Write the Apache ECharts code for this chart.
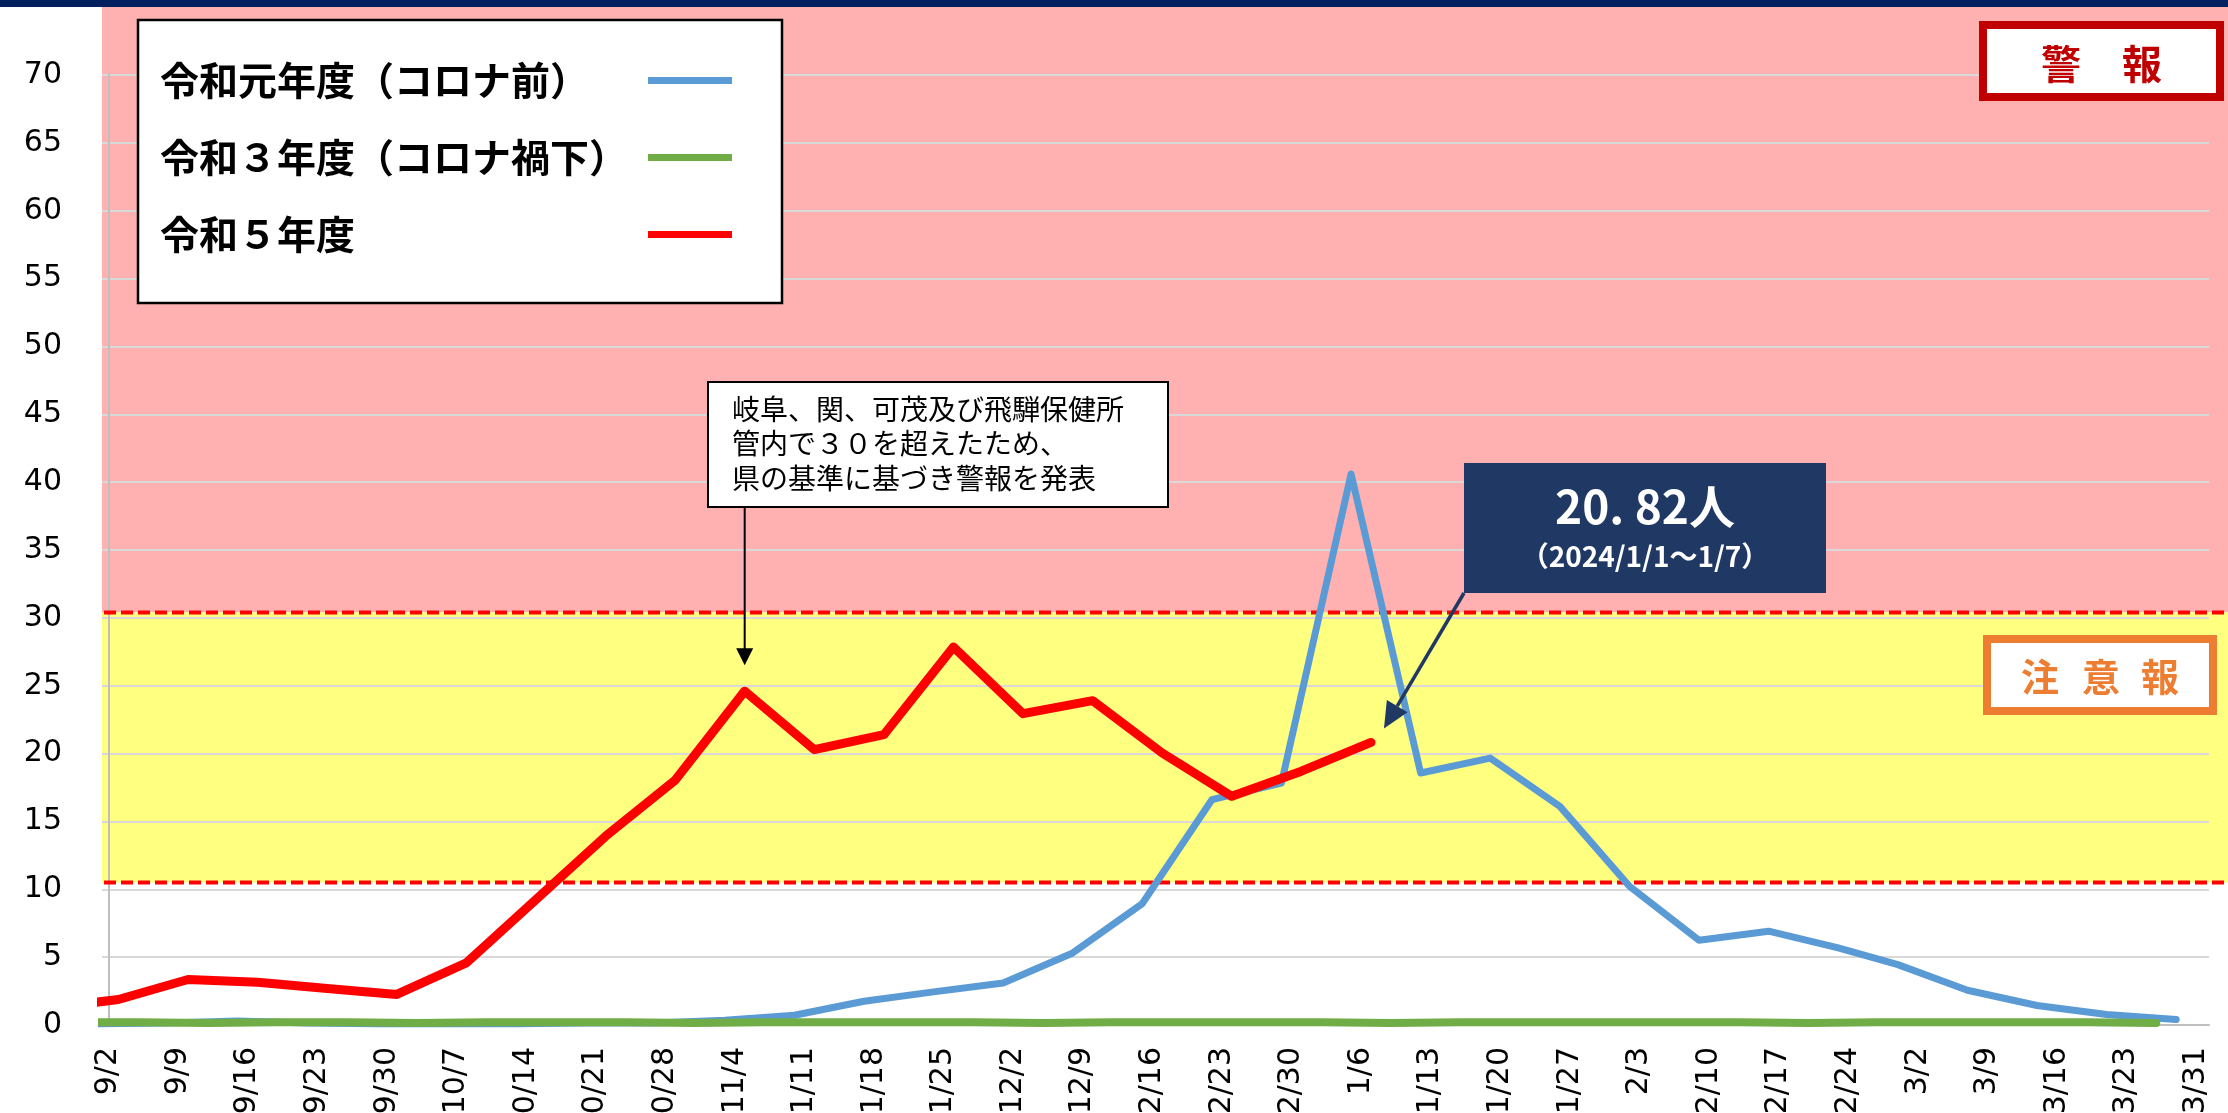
<!DOCTYPE html>
<html><head><meta charset="utf-8">
<script src="https://cdn.jsdelivr.net/npm/echarts@6/dist/echarts.min.js"></script>
<style>html,body{margin:0;padding:0;background:#fff}#c{width:2228px;height:1113px}</style>
</head><body><div id="c"></div>
<script>
// ---- data ----
const xLabels = ['9/2','9/9','9/16','9/23','9/30','10/7','10/14','10/21','10/28','11/4','11/11','11/18','11/25','12/2','12/9','12/16','12/23','12/30','1/6','1/13','1/20','1/27','2/3','2/10','2/17','2/24','3/2','3/9','3/16','3/23','3/31'];
const yMin = 0, yMax = 70, yStep = 5;

const seriesNames = ['令和元年度（コロナ前）','令和３年度（コロナ禍下）','令和５年度'];

// week-ending dates (M/D) of each season
const r1Weeks = ['9/1','9/8','9/15','9/22','9/29','10/6','10/13','10/20','10/27','11/3','11/10','11/17','11/24','12/1','12/8','12/15','12/22','12/29','1/5','1/12','1/19','1/26','2/2','2/9','2/16','2/23','3/1','3/8','3/15','3/22','3/29'];
const r1Values = [0.1,0.15,0.3,0.15,0.1,0.1,0.1,0.15,0.15,0.35,0.72,1.75,2.44,3.1,5.31,8.95,16.6,17.83,40.6,18.57,19.67,16.11,10.22,6.25,6.91,5.68,4.45,2.56,1.44,0.77,0.4];

const r3Weeks = ['8/29','9/5','9/12','9/19','9/26','10/3','10/10','10/17','10/24','10/31','11/7','11/14','11/21','11/28','12/5','12/12','12/19','12/26','1/2','1/9','1/16','1/23','1/30','2/6','2/13','2/20','2/27','3/6','3/13','3/20','3/27'];
const r3Values = [0.2,0.2,0.15,0.2,0.2,0.15,0.2,0.2,0.2,0.15,0.2,0.2,0.2,0.2,0.15,0.2,0.2,0.2,0.2,0.15,0.2,0.2,0.2,0.2,0.2,0.15,0.2,0.2,0.2,0.2,0.15];

const r5Weeks = ['8/27','9/3','9/10','9/17','9/24','10/1','10/8','10/15','10/22','10/29','11/5','11/12','11/19','11/26','12/3','12/10','12/17','12/24','12/31','1/7'];
const r5Values = [1.25,1.88,3.35,3.15,2.69,2.25,4.58,9.24,13.9,18.03,24.6,20.29,21.39,27.85,22.94,23.9,20.04,16.85,18.7,20.82];

// alert levels as drawn (注意報 band bottom, 警報 band bottom)
const cautionLevel = 10.5;
const warningLevel = 30.4;

const noteLines = ['岐阜、関、可茂及び飛騨保健所','管内で３０を超えたため、','県の基準に基づき警報を発表'];
const latestText = '20. 82人';
const latestPeriod = '（2024/1/1～1/7）';

const colors = ['#5B9BD5','#70AD47','#FF0000'];

// ---- helpers ----
function dayOf(md){
  const p = md.split('/').map(Number);
  const y = p[0] >= 8 ? 2022 : 2023;
  return (Date.UTC(y, p[0]-1, p[1]) - Date.UTC(2022, 8, 2)) / 86400000;
}
function pts(weeks, vals){ return weeks.map((w,i)=>[dayOf(w), vals[i]]); }

const CJK = '"Noto Sans CJK JP", sans-serif';
const LAT = '"DejaVu Sans", sans-serif';

const chart = echarts.init(document.getElementById('c'), null, {renderer:'canvas'});

function lineSeries(i, data, w){
  return {
    type:'line', name: seriesNames[i], data: data,
    symbol:'none', showSymbol:false, silent:true, clip:true,
    color: colors[i],
    itemStyle:{color: colors[i]},
    lineStyle:{color: colors[i], width: w, cap:'round', join:'round'},
    z: 3
  };
}

chart.setOption({
  animation:false,
  backgroundColor:'#ffffff',
  grid:{left:102, right:19, top:75, bottom:88, containLabel:false, outerBoundsMode:'none'},
  xAxis:{
    type:'value', min:-0.65, max:211.3,
    splitLine:{show:false},
    axisTick:{show:false},
    axisLine:{show:true, lineStyle:{color:'#BFBFBF', width:2}},
    axisLabel:{
      rotate:90, margin:22, fontSize:30, fontFamily:LAT, color:'#000',
      customValues: xLabels.map((_, i) => i*7),
      formatter: v => xLabels[Math.round(v/7)]
    }
  },
  yAxis:{
    type:'value', min:yMin, max:yMax, interval:yStep,
    axisLine:{show:true, lineStyle:{color:'#BFBFBF', width:2}},
    axisTick:{show:false},
    splitLine:{show:true, lineStyle:{color:'#D9D9D9', width:2}},
    axisLabel:{fontSize:30, fontFamily:LAT, color:'#000', margin:40}
  },
  legend:{
    show:true, orient:'vertical', left:138, top:20,
    data: seriesNames, selectedMode:false, align:'right',
    icon:'rect', itemWidth:84, itemHeight:7, itemGap:38,
    padding:[41,50,49,22],
    backgroundColor:'#ffffff', borderColor:'#000000', borderWidth:2.5,
    formatter: n => '{t|' + n + '}',
    textStyle:{ rich:{ t:{ width:483, align:'left', fontSize:39, fontWeight:'bold', fontFamily:CJK, color:'#000', lineHeight:44 } } },
    z: 20
  },
  series:[
    lineSeries(0, pts(r1Weeks, r1Values), 7),
    lineSeries(1, pts(r3Weeks, r3Values), 8),
    lineSeries(2, pts(r5Weeks, r5Values), 9)
  ]
});

// ---- overlays placed through the axis scales ----
const W = 2228;
const gridLeft = 102;
const yOf = v => chart.convertToPixel({yAxisIndex:0}, v);
const P = (d, v) => chart.convertToPixel({xAxisIndex:0, yAxisIndex:0}, [d, v]);

const yWarn = yOf(warningLevel);
const yCaut = yOf(cautionLevel);

// arrow 1 target: R5 peak at 11/5
const peak = P(dayOf(r5Weeks[10]), r5Values[10]);
const tip1 = [peak[0], peak[1] - 26];
// arrow 2 target: latest R5 value
const last = P(dayOf(r5Weeks[r5Weeks.length-1]), r5Values[r5Values.length-1]);
const tip2 = [last[0] + 13, last[1] - 14];
const a2s = [1464, 593];
const dx = tip2[0]-a2s[0], dy = tip2[1]-a2s[1], L = Math.hypot(dx, dy);
const ux = dx/L, uy = dy/L, hl = 26, hw = 12;
const base2 = [tip2[0]-ux*hl, tip2[1]-uy*hl];

const graphics = [
  {type:'rect', z:-1, silent:true, shape:{x:0, y:0, width:W, height:7}, style:{fill:'#002060'}},
  {type:'rect', z:-1, silent:true, shape:{x:gridLeft, y:7, width:W-gridLeft, height:yWarn-7}, style:{fill:'#FFB1B1'}},
  {type:'rect', z:-1, silent:true, shape:{x:gridLeft, y:yWarn, width:W-gridLeft, height:yCaut-yWarn}, style:{fill:'#FFFF80'}},
  {type:'line', z:1, silent:true, shape:{x1:104, y1:yWarn, x2:W, y2:yWarn}, style:{stroke:'#FF0000', lineWidth:4, lineDash:[12,5]}},
  {type:'line', z:1, silent:true, shape:{x1:104, y1:yCaut, x2:W, y2:yCaut}, style:{stroke:'#FF0000', lineWidth:4, lineDash:[12,5]}},

  // 警報 box
  {type:'rect', z:10, silent:true, shape:{x:1983, y:25, width:237, height:72}, style:{fill:'#fff', stroke:'#C00000', lineWidth:8}},
  {type:'text', z:11, silent:true, style:{text:'警', x:2061, y:64, align:'center', verticalAlign:'middle', fontSize:40, fontWeight:'bold', fontFamily:CJK, fill:'#C00000'}},
  {type:'text', z:11, silent:true, style:{text:'報', x:2142, y:64, align:'center', verticalAlign:'middle', fontSize:40, fontWeight:'bold', fontFamily:CJK, fill:'#C00000'}},

  // 注意報 box
  {type:'rect', z:10, silent:true, shape:{x:1987, y:639, width:226, height:72}, style:{fill:'#fff', stroke:'#ED7D31', lineWidth:8}},
  {type:'text', z:11, silent:true, style:{text:'注', x:2040, y:677, align:'center', verticalAlign:'middle', fontSize:38, fontWeight:'bold', fontFamily:CJK, fill:'#ED7D31'}},
  {type:'text', z:11, silent:true, style:{text:'意', x:2101, y:677, align:'center', verticalAlign:'middle', fontSize:38, fontWeight:'bold', fontFamily:CJK, fill:'#ED7D31'}},
  {type:'text', z:11, silent:true, style:{text:'報', x:2160, y:677, align:'center', verticalAlign:'middle', fontSize:38, fontWeight:'bold', fontFamily:CJK, fill:'#ED7D31'}},

  // note box
  {type:'rect', z:10, silent:true, shape:{x:708, y:382, width:460, height:125}, style:{fill:'#fff', stroke:'#000', lineWidth:2}},
  {type:'text', z:11, silent:true, style:{text:noteLines.join('\n'), x:732, y:392, align:'left', verticalAlign:'top', fontSize:28, lineHeight:34.5, fontFamily:CJK, fill:'#000'}},
  {type:'line', z:11, silent:true, shape:{x1:tip1[0], y1:507, x2:tip1[0], y2:tip1[1]-16}, style:{stroke:'#000', lineWidth:2}},
  {type:'polygon', z:11, silent:true, shape:{points:[[tip1[0]-8.5, tip1[1]-17],[tip1[0]+8.5, tip1[1]-17],[tip1[0], tip1[1]]]}, style:{fill:'#000'}},

  // latest value box
  {type:'rect', z:10, silent:true, shape:{x:1464, y:463, width:362, height:130}, style:{fill:'#203864'}},
  {type:'text', z:11, silent:true, style:{text:latestText, x:1645, y:507, align:'center', verticalAlign:'middle', fontSize:46, fontWeight:'bold', fontFamily:CJK, fill:'#fff'}},
  {type:'text', z:11, silent:true, style:{text:latestPeriod, x:1645, y:556, align:'center', verticalAlign:'middle', fontSize:28, fontWeight:'bold', fontFamily:CJK, fill:'#fff'}},
  {type:'line', z:11, silent:true, shape:{x1:a2s[0], y1:a2s[1], x2:base2[0], y2:base2[1]}, style:{stroke:'#203864', lineWidth:3.5}},
  {type:'polygon', z:11, silent:true, shape:{points:[[base2[0]-uy*hw, base2[1]+ux*hw],[base2[0]+uy*hw, base2[1]-ux*hw],[tip2[0], tip2[1]]]}, style:{fill:'#203864'}}
];

chart.setOption({graphic:{elements: graphics}});
</script>
</body></html>
